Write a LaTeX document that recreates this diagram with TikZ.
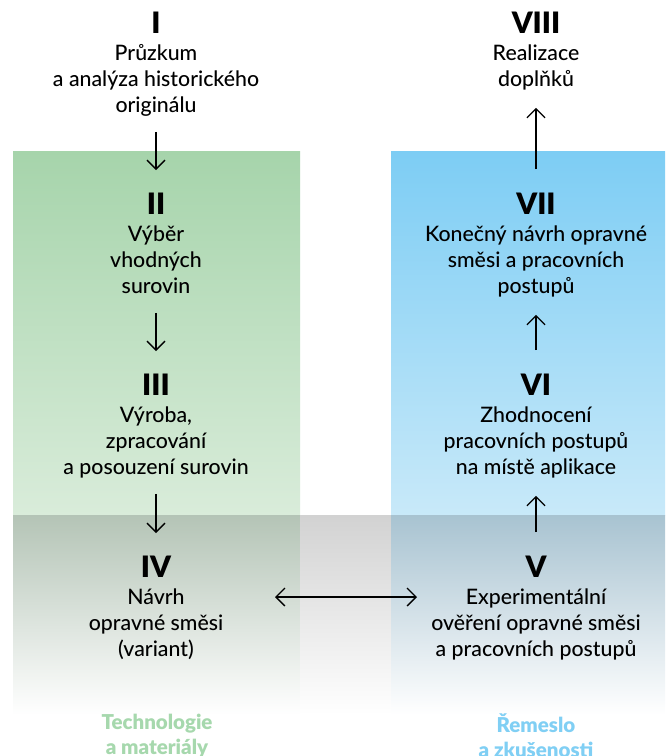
\documentclass[tikz,border=0pt]{standalone}
\usepackage{fontspec}
\setmainfont{Lato Medium}
\newfontfamily\heavyfont{Lato Black}
\usetikzlibrary{arrows.meta}

\definecolor{techgreen}{HTML}{A6D4AB}
\definecolor{techgreenlight}{HTML}{D9ECDA}
\definecolor{craftblue}{HTML}{7DCDF4}
\definecolor{craftbluelight}{HTML}{C8E9F9}
\definecolor{bandgreen}{HTML}{B4C4B6}
\definecolor{bandgray}{HTML}{D2D2D2}
\definecolor{bandblue}{HTML}{A8C3D1}
\definecolor{labelgreen}{HTML}{A6D8AD}
\definecolor{labelblue}{HTML}{80CFF4}

\newcommand{\numeral}[1]{{\fontsize{29.5}{26}\selectfont\heavyfont #1}}

\begin{document}
\begin{tikzpicture}[x=1pt,y=-1pt,
  stepbox/.style={align=center, anchor=north, inner sep=0pt, text depth=8pt,
    font=\fontsize{21.3}{26}\selectfont},
  grouplabel/.style={align=center, anchor=north, inner sep=0pt,
    font=\fontsize{20.5}{25}\selectfont\heavyfont,
    execute at begin node=\rule{0pt}{18pt}},
  flow/.style={-{Straight Barb[length=9pt,width=18pt]}, line width=1.3pt},
  flowdown/.style={flow, shorten <=11pt, shorten >=23pt},
  flowup/.style={flow, shorten <=24pt, shorten >=13pt},
  flowboth/.style={{Straight Barb[length=9pt,width=18pt]}-{Straight Barb[length=9pt,width=18pt]},
    line width=1.3pt, shorten <=119pt, shorten >=119pt}]

\useasboundingbox (0,0) rectangle (665,756);

% columns
\fill[white] (0,0) rectangle (665,756);
\shade[top color=techgreen, bottom color=techgreenlight] (13,151) rectangle (300,515);
\shade[top color=craftblue, bottom color=craftbluelight] (391,151) rectangle (665,515);

% common band
\shade[top color=bandgreen, bottom color=white] (13,515) rectangle (300,715);
\shade[top color=bandgray, bottom color=white] (300,515) rectangle (391,715);
\shade[top color=bandblue, bottom color=white] (391,515) rectangle (665,715);

% steps
\node[stepbox] (s1) at (156,12) {\numeral{I}\\[1pt]Průzkum\\a analýza historického\\originálu};
\node[stepbox] (s2) at (156,193) {\numeral{II}\\[1pt]Výběr\\vhodných\\surovin};
\node[stepbox] (s3) at (156,374) {\numeral{III}\\[1pt]Výroba,\\zpracování\\a posouzení surovin};
\node[stepbox] (s4) at (156,556) {\numeral{IV}\\[1pt]Návrh\\opravné směsi\\(variant)};
\node[stepbox] (s5) at (536,556) {\numeral{V}\\[1pt]Experimentální\\ověření opravné směsi\\a pracovních postupů};
\node[stepbox] (s6) at (536,374) {\numeral{VI}\\[1pt]Zhodnocení\\pracovních postupů\\na místě aplikace};
\node[stepbox] (s7) at (536,193) {\numeral{VII}\\[1pt]Konečný návrh opravné\\směsi a pracovních\\postupů};
\node[stepbox] (s8) at (536,12) {\numeral{VIII}\\[1pt]Realizace\\doplňků};

% groups
\node[grouplabel, text=labelgreen] (tech) at (157,714) {Technologie\\a materiály};
\node[grouplabel, text=labelblue] (craft) at (536,714) {Řemeslo\\a zkušenosti};

% arrows
\draw[flowdown] (s1.south) -- (s2.north);
\draw[flowdown] (s2.south) -- (s3.north);
\draw[flowdown] (s3.south) -- (s4.north);
\draw[flowup] (s5.north) -- (s6.south);
\draw[flowup] (s6.north) -- (s7.south);
\draw[flowup] (s7.north) -- (s8.south);

\path (s4.north) ++(0,41) coordinate (s4mid);
\draw[flowboth] (s4mid) -- (s4mid -| s5);

\end{tikzpicture}
\end{document}
